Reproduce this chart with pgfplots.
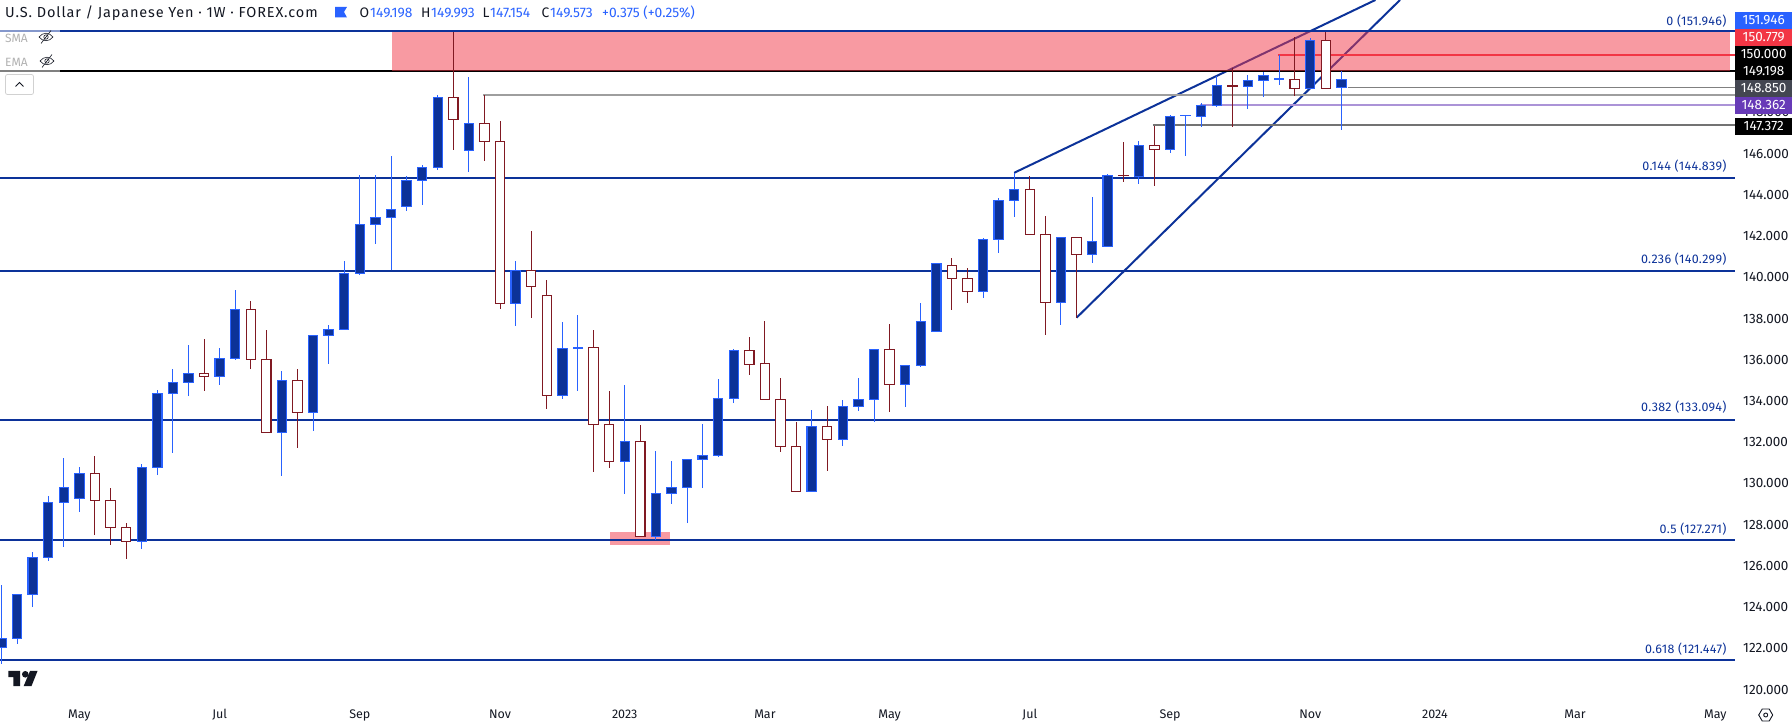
\documentclass[border=0pt]{standalone}
\usepackage{pgfplots}
\usepackage{pgfplotstable}
\pgfplotsset{compat=1.18}
\usepackage{fontspec}
\setmainfont{Fira Sans}
\newfontfamily\titlefont{Fira Sans}[LetterSpace=6]
\newfontfamily\fibfont{Fira Sans}[LetterSpace=2.7]
\definecolor{fib}{HTML}{0C3299}
\definecolor{tvblue}{HTML}{2962FF}
\definecolor{candleRed}{HTML}{801922}
\definecolor{tvred}{HTML}{F23645}
\definecolor{ink}{HTML}{131722}
\definecolor{purp}{HTML}{673AB7}
\definecolor{slate}{HTML}{434651}
\pgfplotstableread{
i o h l c
0 122.06 125.09 121.26 122.49
1 122.47 124.64 122.22 124.63
2 124.61 126.68 124.01 126.42
3 126.40 129.38 126.24 129.09
4 129.09 131.24 126.92 129.82
5 129.26 130.80 128.62 130.49
6 130.49 131.32 127.50 129.19
7 129.19 129.77 127.02 127.86
8 127.88 128.08 126.34 127.18
9 127.18 130.95 126.82 130.79
10 130.77 134.52 130.41 134.37
11 134.36 135.55 131.48 134.91
12 134.89 136.72 134.24 135.34
13 135.34 137.01 134.49 135.18
14 135.18 136.57 134.78 136.05
15 136.05 139.38 135.99 138.45
16 138.45 138.85 135.55 136.00
17 136.02 137.44 132.48 132.48
18 132.48 135.44 130.38 135.01
19 135.01 135.55 131.74 133.45
20 133.45 137.20 132.56 137.19
21 137.19 137.67 135.80 137.48
22 137.48 140.78 137.48 140.19
23 140.19 144.95 140.13 142.57
24 142.57 144.95 141.63 142.91
25 142.91 145.88 140.34 143.30
26 143.43 144.91 143.23 144.71
27 144.71 145.45 143.52 145.34
28 145.34 148.83 145.22 148.73
29 148.73 151.92 146.19 147.66
30 146.16 149.70 145.12 147.47
31 147.47 148.84 145.66 146.60
32 146.60 147.57 138.48 138.74
33 138.74 140.78 137.65 140.34
34 140.34 142.25 138.04 139.56
35 139.13 139.87 133.63 134.28
36 134.28 137.83 134.11 136.56
37 136.56 138.17 134.50 136.59
38 136.61 137.44 130.57 132.87
39 132.87 134.47 130.77 131.06
40 131.06 134.78 129.51 132.05
41 132.05 132.84 127.44 127.44
42 127.44 131.56 127.25 129.52
43 129.52 131.09 129.01 129.82
44 129.82 131.17 128.08 131.17
45 131.15 132.89 129.78 131.37
46 131.35 135.07 131.29 134.13
47 134.13 136.51 133.90 136.46
48 136.46 137.11 135.28 135.78
49 135.80 137.88 134.06 134.06
50 134.08 135.12 131.54 131.80
51 131.80 132.98 129.60 129.60
52 129.60 133.56 129.60 132.77
53 132.77 133.76 130.62 132.12
54 132.12 134.05 131.82 133.74
55 133.74 135.12 133.53 134.08
56 134.08 136.51 133.00 136.51
57 136.51 137.74 133.48 134.79
58 134.79 135.75 133.73 135.73
59 135.73 138.75 135.65 137.87
60 137.36 140.69 137.36 140.68
61 140.56 140.94 138.43 139.93
62 139.93 140.45 138.77 139.30
63 139.30 141.89 139.01 141.84
64 141.84 143.83 141.19 143.74
65 143.74 145.07 142.94 144.27
66 144.27 144.90 142.09 142.09
67 142.09 142.96 137.22 138.79
68 138.79 141.96 137.70 141.94
69 141.94 141.94 138.04 141.12
70 141.12 143.90 140.71 141.75
71 141.50 145.01 141.50 144.95
72 144.95 146.55 144.64 144.93
73 144.90 146.60 144.54 146.40
74 146.40 147.34 144.44 146.21
75 146.21 147.86 146.04 147.81
76 147.84 147.87 145.90 147.86
77 147.81 148.45 147.31 148.34
78 148.34 149.76 148.28 149.31
79 149.30 150.14 147.31 149.26
80 149.26 149.81 148.18 149.56
81 149.56 149.97 148.76 149.80
82 149.59 150.78 149.34 149.62
83 149.60 151.67 148.81 149.17
84 149.17 151.59 149.17 151.50
85 151.50 151.90 149.17 149.17
86 149.198 149.993 147.154 149.573
}\candles
\pgfplotstablegetrowsof{\candles}
\pgfmathtruncatemacro\lastrow{\pgfplotsretval-1}
\newcommand{\eye}[2]{%
  \draw[ink,line width=0.6pt] (#1-7,#2) .. controls (#1-3,#2+5) and (#1+3,#2+5) .. (#1+7,#2) .. controls (#1+3,#2-5) and (#1-3,#2-5) .. (#1-7,#2) -- cycle;
  \draw[ink,line width=0.6pt] (#1,#2) circle (2.2);
  \draw[ink,line width=0.6pt] (#1-5,#2-6.5) -- (#1+5,#2+6.5);}
\newcommand{\pricebox}[4]{%
  \fill[#1] (1735,700-#2) rectangle (1792,700-#3);
  \node[text=white,font=\fontsize{13.5}{14}\selectfont,inner sep=0pt,anchor=center] at (1763.7,700-#2/2-#3/2) {#4};}
\newcommand{\fiblabel}[2]{%
  \node[text=fib,font=\fibfont\fontsize{12.5}{13}\selectfont,inner sep=0pt,anchor=base east] at (1726.7,700-#1) {#2};}
\begin{document}
\begin{tikzpicture}[x=1pt,y=1pt]
\useasboundingbox (0,-26) rectangle (1792,700);
\begin{axis}[
  at={(0pt,0pt)},anchor=south west,
  scale only axis,width=1735pt,height=700pt,
  xmin=-0.0963,xmax=111.26,
  ymin=119.50,ymax=153.449,
  axis line style={draw=none},
  major tick length=0pt,
  xtick={5,14,23,32,40,49,57,66,75,84,92,101,110},
  xticklabels={May,Jul,Sep,Nov,2023,Mar,May,Jul,Sep,Nov,2024,Mar,May},
  xticklabel style={anchor=base,yshift=-18pt,font=\fontsize{12.5}{13}\selectfont,text=ink},
  ytick={120,122,...,148},
  yticklabel pos=right,
  scaled y ticks=false,
  yticklabel style={anchor=west,xshift=8pt,inner sep=0pt,font=\fontsize{13.5}{14}\selectfont,text=ink,
    /pgf/number format/.cd,fixed,fixed zerofill,precision=3,1000 sep={},assume math mode=true},
]
% trend lines, under the zone
\addplot[fib,line width=2pt] coordinates {(65,145.07)(88.18,153.449)};
\addplot[fib,line width=2pt] coordinates {(69,138.04)(89.76,153.449)};
% black 150 line, under the zone
\addplot[black,line width=2pt] coordinates {(-0.0963,150.000)(111.26,150.000)};
% zone
\addplot[draw=none,fill=tvred,fill opacity=0.5] coordinates {(25.06,151.946)(110.95,151.946)(110.95,150.000)(25.06,150.000)} -- cycle;
% small zone at the 2023 low
\addplot[draw=none,fill=tvred,fill opacity=0.5] coordinates {(39.06,127.65)(42.91,127.65)(42.91,127.02)(39.06,127.02)} -- cycle;
% fibonacci levels
\addplot[fib,line width=2pt] coordinates {(-0.0963,151.946)(111.26,151.946)};
\addplot[fib,line width=2pt] coordinates {(-0.0963,144.839)(111.26,144.839)};
\addplot[fib,line width=2pt] coordinates {(-0.0963,140.299)(111.26,140.299)};
\addplot[fib,line width=2pt] coordinates {(-0.0963,133.094)(111.26,133.094)};
\addplot[fib,line width=2pt] coordinates {(-0.0963,127.271)(111.26,127.271)};
\addplot[fib,line width=2pt] coordinates {(-0.0963,121.447)(111.26,121.447)};
% horizontal levels
\addplot[tvred,line width=1.5pt] coordinates {(81.93,150.779)(111.26,150.779)};
\addplot[color=black!50,line width=1pt] coordinates {(86.4,149.198)(111.26,149.198)};
\addplot[color=black!38,line width=2pt] coordinates {(30.93,148.850)(111.26,148.850)};
\addplot[color=purp!55,line width=2pt] coordinates {(76.9,148.362)(111.26,148.362)};
\addplot[color=black!55,line width=2pt] coordinates {(73.9,147.372)(111.26,147.372)};
% candles
\pgfplotsforeachungrouped \r in {0,...,\lastrow}{%
  \pgfplotstablegetelem{\r}{i}\of\candles \let\vi\pgfplotsretval
  \pgfplotstablegetelem{\r}{o}\of\candles \let\vo\pgfplotsretval
  \pgfplotstablegetelem{\r}{h}\of\candles \let\vh\pgfplotsretval
  \pgfplotstablegetelem{\r}{l}\of\candles \let\vl\pgfplotsretval
  \pgfplotstablegetelem{\r}{c}\of\candles \let\vc\pgfplotsretval
  \pgfmathsetmacro\xa{\vi-0.3}%
  \pgfmathsetmacro\xb{\vi+0.3}%
  \pgfmathtruncatemacro\isup{\vc>=\vo ? 1 : 0}%
  \ifnum\isup=1
    \addplot[tvblue,line width=1pt] coordinates {(\vi,\vl)(\vi,\vh)};
    \addplot[draw=tvblue,fill=fib,line width=1.1pt] coordinates {(\xa,\vo)(\xb,\vo)(\xb,\vc)(\xa,\vc)} -- cycle;
  \else
    \addplot[candleRed,line width=1pt] coordinates {(\vi,\vl)(\vi,\vh)};
    \addplot[draw=candleRed,fill=white,line width=1.1pt] coordinates {(\xa,\vo)(\xb,\vo)(\xb,\vc)(\xa,\vc)} -- cycle;
  \fi
}
\end{axis}
% --- interface texts on top of the axis ---
\fill[white,fill opacity=0.5] (0,700-29) rectangle (60,700-73);
\node[anchor=base west,inner sep=0pt,text=black!30,font=\fontsize{12}{13}\selectfont] at (5,700-43) {SMA};
\node[anchor=base west,inner sep=0pt,text=black!30,font=\fontsize{12}{13}\selectfont] at (5,700-67) {EMA};
\eye{46}{700-37}
\eye{47}{700-61}
\draw[black!18,line width=0.8pt,rounded corners=2pt,fill=white] (5.5,700-74.5) rectangle (33.5,700-94.5);
\draw[ink,line width=1pt] (15.5,700-86.5) -- (19.5,700-82.5) -- (23.5,700-86.5);
% title row
\node[anchor=base west,inner sep=0pt,text=ink,font=\titlefont\fontsize{14.5}{16}\selectfont] at (5,700-18) {U.S. Dollar / Japanese Yen · 1W · FOREX.com};
\fill[tvblue] (335,700-7) -- (347,700-7) -- (344,700-12) -- (347,700-17.5) -- (335,700-17.5) -- cycle;
\begin{scope}[font=\fontsize{13.8}{14}\selectfont]
\node[anchor=base west,inner sep=0pt,text=ink] at (359.5,700-18) {O};
\node[anchor=base west,inner sep=0pt,text=tvblue] at (370,700-18) {149.198};
\node[anchor=base west,inner sep=0pt,text=ink] at (421,700-18) {H};
\node[anchor=base west,inner sep=0pt,text=tvblue] at (431,700-18) {149.993};
\node[anchor=base west,inner sep=0pt,text=ink] at (482.5,700-18) {L};
\node[anchor=base west,inner sep=0pt,text=tvblue] at (490,700-18) {147.154};
\node[anchor=base west,inner sep=0pt,text=ink] at (541.5,700-18) {C};
\node[anchor=base west,inner sep=0pt,text=tvblue] at (550,700-18) {149.573};
\node[anchor=base west,inner sep=0pt,text=tvblue] at (602,700-18) {+0.375 (+0.25\%)};
\end{scope}
% level labels
\fiblabel{26}{0 (151.946)}
\fiblabel{171}{0.144 (144.839)}
\fiblabel{264}{0.236 (140.299)}
\fiblabel{412}{0.382 (133.094)}
\fiblabel{534}{0.5 (127.271)}
\fiblabel{654}{0.618 (121.447)}
% price boxes
\pricebox{tvblue}{12}{29}{151.946}
\pricebox{tvred}{29}{46}{150.779}
\pricebox{black}{46}{63}{150.000}
\pricebox{black}{63}{80}{149.198}
\pricebox{slate}{80}{97}{148.850}
\pricebox{purp}{97}{114}{148.362}
\pricebox{black}{118}{135}{147.372}
% logo
\fill[ink] (8.4,700-671) -- (20,700-671) -- (20,700-686) -- (13.4,700-686) -- (13.4,700-677) -- (8.4,700-677) -- cycle;
\fill[ink] (25.3,700-674.3) circle (3.3);
\fill[ink] (30,700-671) -- (37.5,700-671) -- (31.5,700-686) -- (23.7,700-686) -- cycle;
% settings icon
\draw[ink,line width=0.9pt] (1758.7,700-715) -- (1762.2,700-709) -- (1769.2,700-709) -- (1772.7,700-715) -- (1769.2,700-721) -- (1762.2,700-721) -- cycle;
\draw[ink,line width=0.9pt] (1765.7,700-715) circle (2);
\end{tikzpicture}
\end{document}
